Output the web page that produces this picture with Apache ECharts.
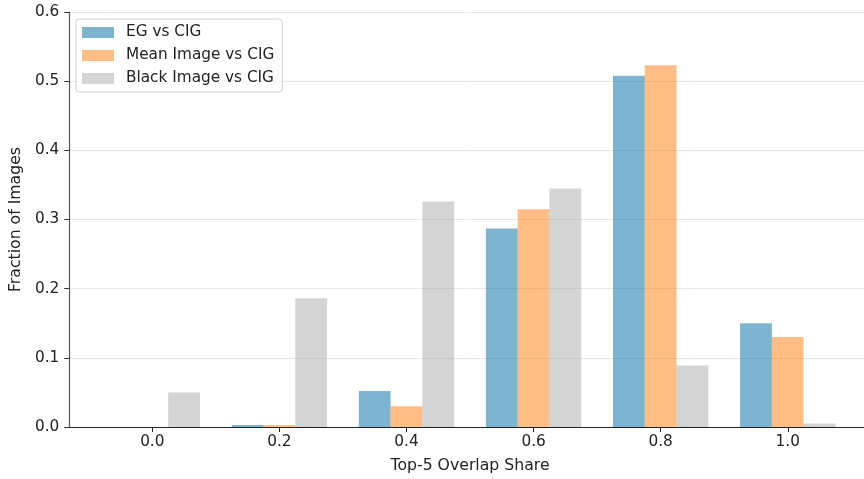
<!DOCTYPE html>
<html>
<head>
<meta charset="utf-8">
<script src="https://cdn.jsdelivr.net/npm/echarts@6/dist/echarts.min.js"></script>
<style>
  html, body { margin: 0; padding: 0; background: #fff; }
  #chart { width: 864px; height: 479px; }
</style>
</head>
<body>
<div id="chart"></div>
<script>
const categories = ['0.0', '0.2', '0.4', '0.6', '0.8', '1.0']
const egVsCig = [0, 0.003, 0.052, 0.287, 0.508, 0.150]
const meanVsCig = [0, 0.003, 0.030, 0.315, 0.523, 0.130]
const blackVsCig = [0.050, 0.186, 0.326, 0.345, 0.089, 0.005]
const yTicks = { min: 0, max: 0.6, interval: 0.1 }

const font = 'DejaVu Sans'
const chart = echarts.init(document.getElementById('chart'))

const barSeries = (name, data, color) => ({
  name,
  type: 'bar',
  xAxisIndex: 1,
  yAxisIndex: 1,
  data,
  barGap: '0%',
  barCategoryGap: '25%',
  itemStyle: { color }
})

const option = {
  animation: false,
  textStyle: { fontFamily: font },
  legend: {
    orient: 'vertical',
    left: 76,
    top: 19,
    padding: [5, 8, 5, 6],
    itemWidth: 32,
    itemHeight: 11,
    itemGap: 6,
    icon: 'rect',
    borderColor: '#d0d0d0',
    borderWidth: 1,
    borderRadius: 3,
    backgroundColor: 'rgba(255,255,255,0.8)',
    textStyle: { fontFamily: font, fontSize: 15.3, color: '#222', lineHeight: 17, padding: [0, 0, 0, 7] },
    data: ['EG vs CIG', 'Mean Image vs CIG', 'Black Image vs CIG']
  },
  grid: [
    { left: 68, right: 0, top: 12, bottom: 52 },
    { left: 88.75, right: 12.7, top: 12, bottom: 52 }
  ],
  xAxis: [
    {
      type: 'value',
      gridIndex: 0,
      min: 0,
      max: 1,
      axisLine: { show: true, lineStyle: { color: '#222', width: 1.2 } },
      axisTick: { show: false },
      axisLabel: { show: false },
      splitLine: { show: false }
    },
    {
      type: 'category',
      gridIndex: 1,
      data: categories,
      axisLine: { show: false },
      axisTick: { show: true, alignWithLabel: true, length: 5, lineStyle: { color: '#222' } },
      axisLabel: { fontFamily: font, fontSize: 15.3, color: '#222', margin: 8 },
      name: 'Top-5 Overlap Share',
      nameLocation: 'middle',
      nameGap: 31,
      nameTextStyle: { fontFamily: font, fontSize: 15.7, color: '#222' }
    }
  ],
  yAxis: [
    {
      type: 'value',
      gridIndex: 0,
      min: yTicks.min,
      max: yTicks.max,
      interval: yTicks.interval,
      axisLine: { show: true, lineStyle: { color: '#555', width: 1.2 } },
      axisTick: { show: true, length: 5, lineStyle: { color: '#333' } },
      axisLabel: {
        fontFamily: font, fontSize: 15.3, color: '#222', margin: 10,
        formatter: (v) => v.toFixed(1)
      },
      splitLine: { show: true, lineStyle: { color: '#e6e6e6', width: 1 } },
      name: 'Fraction of Images',
      nameLocation: 'middle',
      nameGap: 43,
      nameRotate: 90,
      nameTextStyle: { fontFamily: font, fontSize: 15.7, color: '#222' }
    },
    {
      type: 'value',
      gridIndex: 1,
      min: yTicks.min,
      max: yTicks.max,
      interval: yTicks.interval,
      show: false
    }
  ],
  series: [
    barSeries('EG vs CIG', egVsCig, 'rgba(0,105,161,0.5)'),
    barSeries('Mean Image vs CIG', meanVsCig, 'rgba(255,125,13,0.5)'),
    barSeries('Black Image vs CIG', blackVsCig, 'rgba(169,169,169,0.5)')
  ]
}

chart.setOption(option)
</script>
</body>
</html>
